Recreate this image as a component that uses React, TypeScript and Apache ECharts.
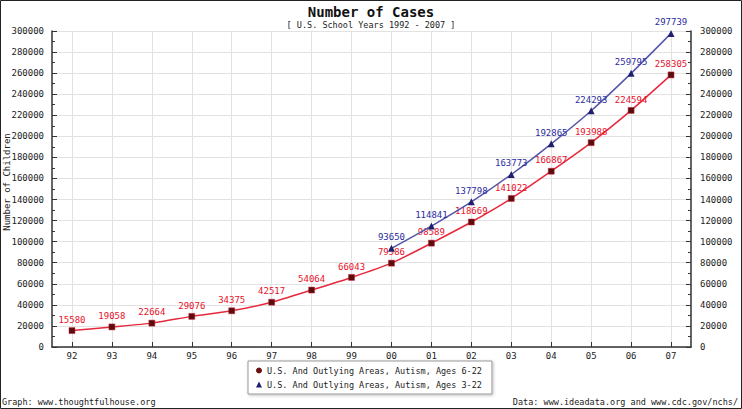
import React, { useEffect, useRef } from "react";
import * as echarts from "echarts";

const years = ["92", "93", "94", "95", "96", "97", "98", "99", "00", "01", "02", "03", "04", "05", "06", "07"];
const ages6to22 = [15580, 19058, 22664, 29076, 34375, 42517, 54064, 66043, 79586, 98589, 118669, 141022, 166867, 193988, 224594, 258305];
const ages3to22 = [null, null, null, null, null, null, null, null, 93650, 114841, 137798, 163773, 192865, 224293, 259795, 297739];
const seriesNames = [
  "U.S. And Outlying Areas, Autism, Ages 6-22",
  "U.S. And Outlying Areas, Autism, Ages 3-22",
];
const titleText = "Number of Cases";
const subtitleText = "[ U.S. School Years 1992 - 2007 ]";
const yAxisTitle = "Number of Children";
const footerLeft = "Graph: www.thoughtfulhouse.org";
const footerRight = "Data: www.ideadata.org and www.cdc.gov/nchs/";

const FONT = "DejaVu Sans Mono";
const plain = (v: number) => String(v);

export default function App() {
  const ref = useRef<HTMLDivElement>(null);
  useEffect(() => {
    if (!ref.current) return;
    const chart = echarts.init(ref.current, null, { renderer: "svg" });
    const yAxisCommon = {
      type: "value" as const,
      min: 0,
      max: 300000,
      interval: 20000,
      axisLine: { show: true, lineStyle: { color: "#333", width: 1.5 } },
      axisTick: { show: true, inside: true, length: 5, lineStyle: { color: "#333" } },
      minorTick: { show: true, splitNumber: 2, length: 3, lineStyle: { color: "#333" } },
      axisLabel: { fontFamily: FONT, fontSize: 9, color: "#222", formatter: plain },
    };
    const labelCommon = {
      show: true,
      position: "top" as const,
      distance: 3,
      fontFamily: FONT,
      fontSize: 9,
      formatter: (p: any) => String(p.value),
    };
    chart.setOption({
      animation: false,
      backgroundColor: "#fff",
      title: [
        {
          text: titleText,
          left: "center",
          top: 0,
          textStyle: { fontFamily: FONT, fontSize: 14, fontWeight: "bold", color: "#111" },
        },
        {
          text: subtitleText,
          left: "center",
          top: 15,
          textStyle: { fontFamily: FONT, fontSize: 8.5, fontWeight: "normal", color: "#222" },
        },
      ],
      grid: { left: 52, right: 51, top: 31, bottom: 62, containLabel: false, outerBoundsMode: "none" },
      legend: {
        orient: "vertical",
        left: 248,
        top: 361,
        padding: [5, 10, 5, 8],
        itemGap: 5,
        itemWidth: 6,
        itemHeight: 6,
        backgroundColor: "#fff",
        borderColor: "#999",
        borderWidth: 1,
        shadowBlur: 3,
        shadowColor: "rgba(0,0,0,0.25)",
        shadowOffsetX: 1,
        shadowOffsetY: 1,
        textStyle: { fontFamily: FONT, fontSize: 8.5, color: "#222" },
        data: [
          { name: seriesNames[0], icon: "circle", itemStyle: { color: "#6a1010", borderWidth: 0 } },
          { name: seriesNames[1], icon: "triangle", itemStyle: { color: "#1f1f6e", borderWidth: 0 } },
        ],
      },
      xAxis: {
        type: "category",
        data: years,
        boundaryGap: true,
        axisLine: { show: true, lineStyle: { color: "#333", width: 1.5 } },
        axisTick: { show: true, inside: true, alignWithLabel: true, length: 5, lineStyle: { color: "#333" } },
        splitLine: { show: true, alignWithLabel: true, lineStyle: { color: "#e2e2e2" } },
        axisLabel: { fontFamily: FONT, fontSize: 9, color: "#222", margin: 4 },
      },
      yAxis: [
        {
          ...yAxisCommon,
          position: "left",
          splitLine: { show: true, lineStyle: { color: "#e2e2e2" } },
          axisLabel: { ...yAxisCommon.axisLabel, margin: 8 },
        },
        {
          ...yAxisCommon,
          position: "right",
          splitLine: { show: false },
          axisLabel: { ...yAxisCommon.axisLabel, margin: 9 },
        },
      ],
      series: [
        {
          name: seriesNames[0],
          type: "line",
          data: ages6to22,
          smooth: 0.2,
          symbol: "rect",
          symbolSize: 6,
          itemStyle: { color: "#5a0d0d", borderColor: "#d0203a", borderWidth: 0.5 },
          lineStyle: { color: "#e8283c", width: 1.5 },
          label: { ...labelCommon, color: "#e8102a" },
          z: 3,
        },
        {
          name: seriesNames[1],
          type: "line",
          data: ages3to22,
          smooth: 0.2,
          symbol: "triangle",
          symbolSize: 7,
          itemStyle: { color: "#1f1f6e" },
          lineStyle: { color: "#5555aa", width: 1.5 },
          label: { ...labelCommon, color: "#2b2ba0" },
          z: 4,
        },
      ],
      graphic: [
        {
          type: "text",
          x: 7,
          y: 182,
          rotation: Math.PI / 2,
          style: {
            text: yAxisTitle,
            fontFamily: FONT,
            fontSize: 9,
            fill: "#222",
            align: "center",
            verticalAlign: "middle",
          },
        },
        {
          type: "text",
          left: 2,
          top: 397,
          style: { text: footerLeft, fontFamily: FONT, fontSize: 8.5, fill: "#222" },
        },
        {
          type: "text",
          right: 4,
          top: 397,
          style: { text: footerRight, fontFamily: FONT, fontSize: 8.5, fill: "#222" },
        },
        {
          type: "rect",
          shape: { x: 0.5, y: 0.5, width: 741, height: 408 },
          style: { fill: "none", stroke: "#222", lineWidth: 1 },
          silent: true,
        },
      ],
    });
    return () => chart.dispose();
  }, []);
  return (
    <div
      ref={ref}
      style={{ position: "fixed", left: 0, top: 0, width: 742, height: 409 }}
    />
  );
}
